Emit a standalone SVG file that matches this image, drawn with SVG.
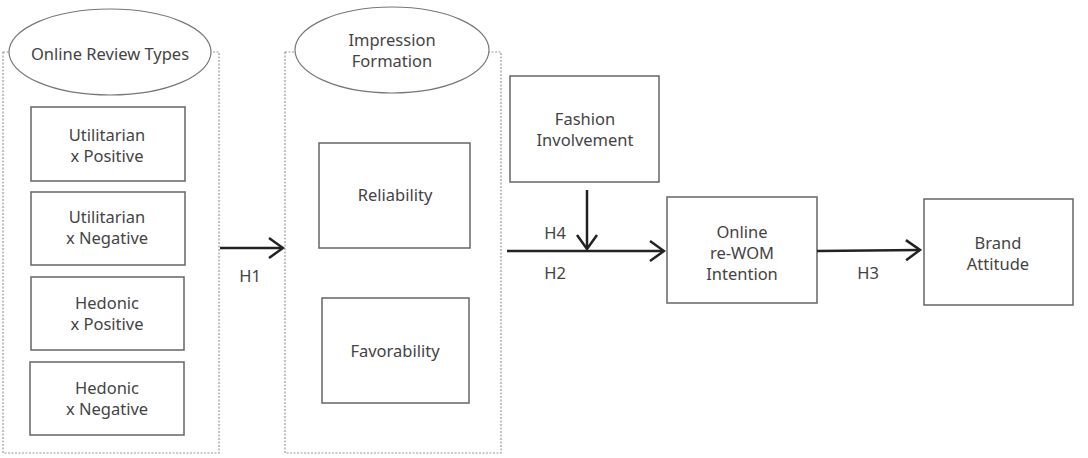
<svg xmlns="http://www.w3.org/2000/svg" width="1088" height="458" viewBox="0 0 1088 458">
<style>
text{font-family:"Noto Sans","Open Sans",sans-serif;font-size:16.5px;fill:#444;text-anchor:middle}
.box{fill:#fff;stroke:#666;stroke-width:1.5}
.cont{fill:none;stroke:#999;stroke-width:1.2;stroke-dasharray:2 1.5}
.ell{fill:#fff;stroke:#777;stroke-width:1.2}
.con{fill:none;stroke:#222;stroke-width:2.5}
</style>
<defs>
<marker id="arr" markerUnits="userSpaceOnUse" markerWidth="20" markerHeight="24" refX="18" refY="12" orient="auto">
<polyline points="4,2 18,12 4,22" fill="none" stroke="#222" stroke-width="2.5"/>
</marker>
</defs>
<g id="online-review-types">
<rect class="cont" x="3" y="52" width="216" height="401"/>
<ellipse class="ell" cx="110" cy="52" rx="101" ry="43"/>
<text x="110" y="60">Online Review Types</text>
</g>
<g id="util-pos"><rect class="box" x="31" y="107" width="154" height="74"/><text x="107" y="141">Utilitarian</text><text x="107" y="162">x Positive</text></g>
<g id="util-neg"><rect class="box" x="31" y="192" width="154" height="73"/><text x="107" y="223">Utilitarian</text><text x="107" y="244">x Negative</text></g>
<g id="hed-pos"><rect class="box" x="31" y="277" width="153" height="73"/><text x="107" y="309">Hedonic</text><text x="107" y="330">x Positive</text></g>
<g id="hed-neg"><rect class="box" x="30" y="362" width="154" height="73"/><text x="107" y="394">Hedonic</text><text x="107" y="415">x Negative</text></g>
<g id="impression-formation">
<rect class="cont" x="285" y="52" width="216" height="401"/>
<ellipse class="ell" cx="392" cy="50" rx="97" ry="43"/>
<text x="392" y="46">Impression</text>
<text x="392" y="67">Formation</text>
</g>
<g id="reliability"><rect class="box" x="319" y="143" width="151" height="105"/><text x="395" y="201">Reliability</text></g>
<g id="favorability"><rect class="box" x="322" y="298" width="147" height="105"/><text x="395" y="357">Favorability</text></g>
<g id="fashion-involvement"><rect class="box" x="510" y="76" width="149" height="106"/><text x="585" y="125">Fashion</text><text x="585" y="146">Involvement</text></g>
<g id="online-rewom"><rect class="box" x="667" y="197" width="150" height="106"/><text x="742" y="238">Online</text><text x="742" y="259">re-WOM</text><text x="742" y="280">Intention</text></g>
<g id="brand-attitude"><rect class="box" x="924" y="199" width="149" height="106"/><text x="998" y="249">Brand</text><text x="998" y="270">Attitude</text></g>
<g id="connectors">
<line class="con" x1="220" y1="248" x2="283" y2="248" marker-end="url(#arr)"/>
<line class="con" x1="507" y1="251" x2="664" y2="251" marker-end="url(#arr)"/>
<line class="con" x1="587" y1="190" x2="587" y2="249" marker-end="url(#arr)"/>
<line class="con" x1="817" y1="251" x2="920" y2="250" marker-end="url(#arr)"/>
<text x="250" y="282">H1</text>
<text x="555" y="239">H4</text>
<text x="555" y="279">H2</text>
<text x="868" y="279">H3</text>
</g>
</svg>
